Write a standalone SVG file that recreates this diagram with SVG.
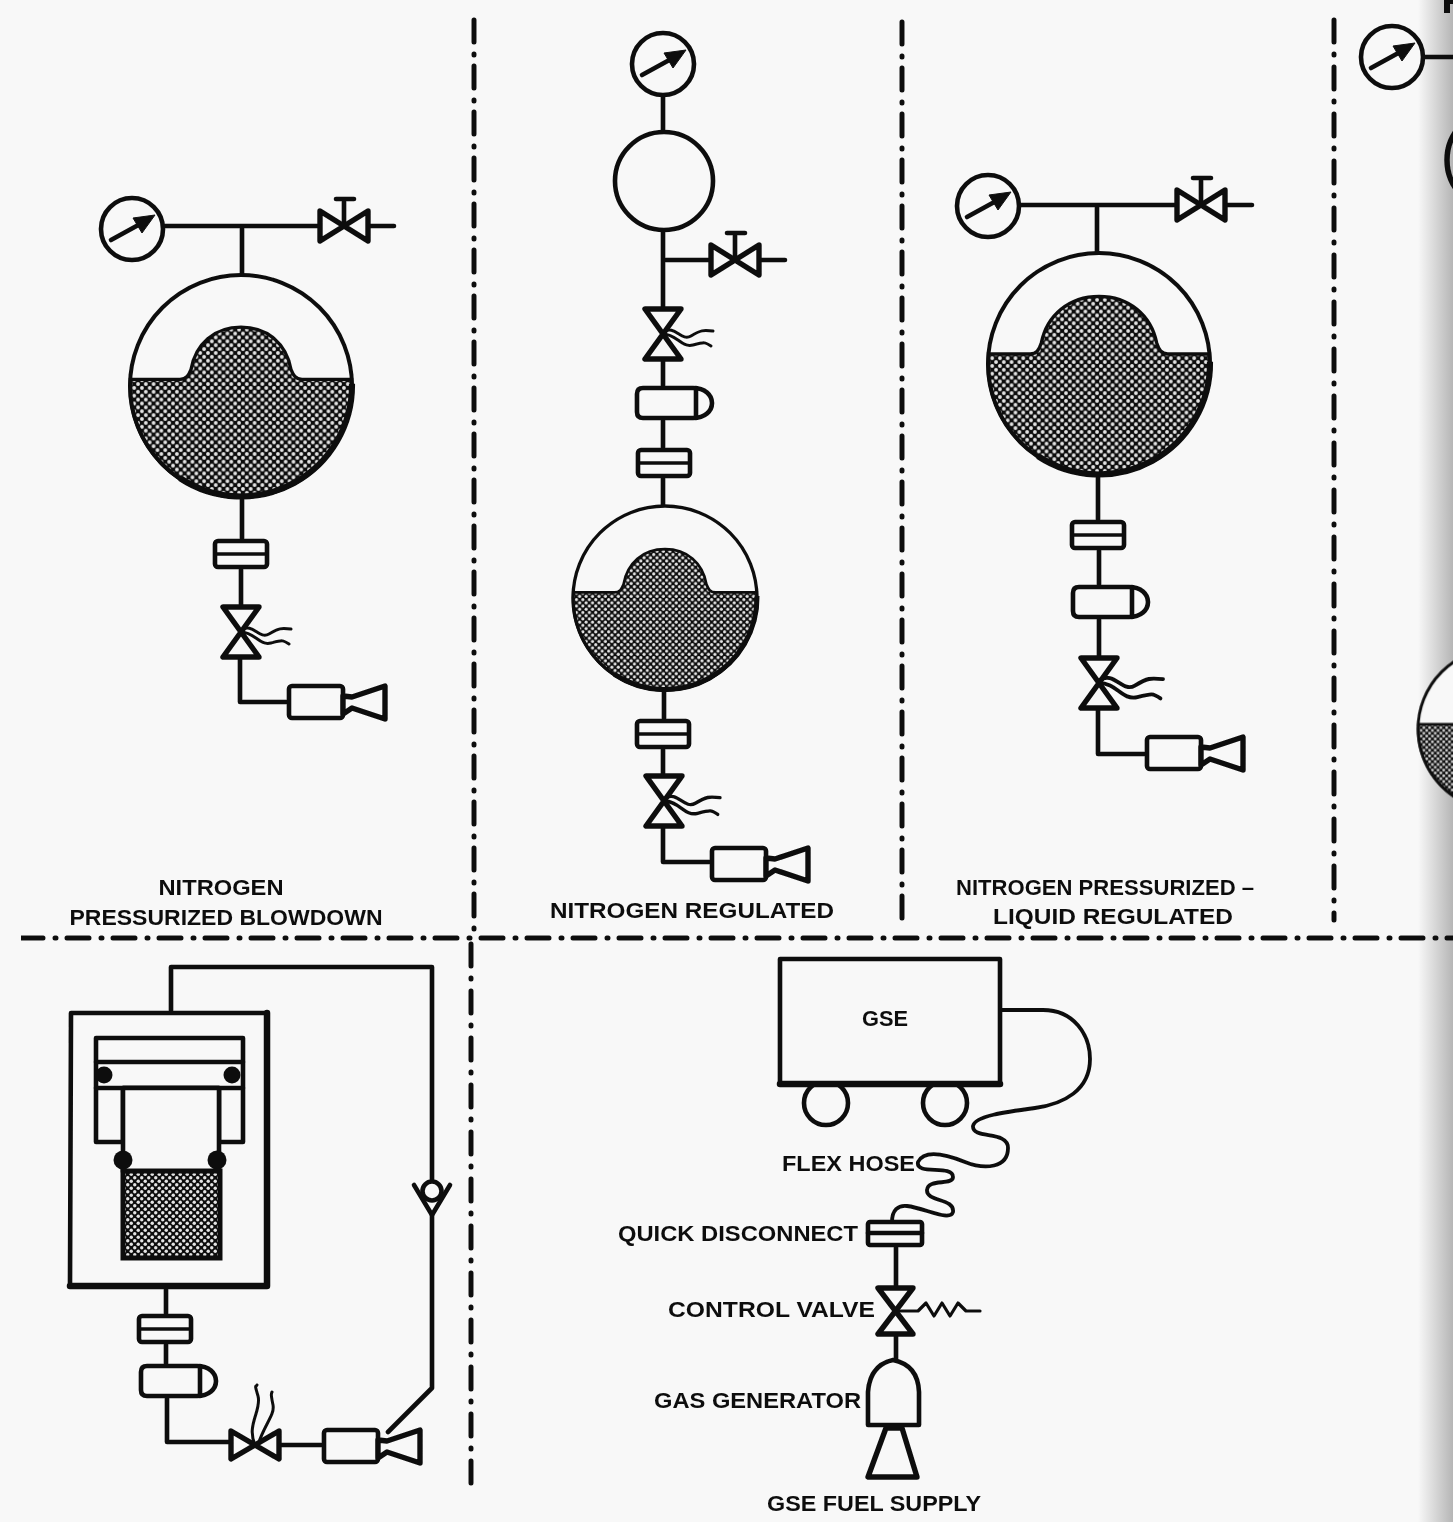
<svg xmlns="http://www.w3.org/2000/svg" width="1453" height="1522" viewBox="0 0 1453 1522">
<style>
.l{fill:none;stroke:#111;stroke-width:4.6;stroke-linejoin:round;stroke-linecap:round}
.s{fill:#f8f8f8;stroke:#111;stroke-width:4.6;stroke-linejoin:round;stroke-linecap:round}
.v{fill:#f8f8f8;stroke:#111;stroke-width:5.4;stroke-linejoin:round;stroke-linecap:round}
.w{fill:none;stroke:#111;stroke-width:3;stroke-linecap:round}
.d{fill:none;stroke:#111;stroke-width:5;stroke-linecap:round;stroke-dasharray:22 12 1 11}
.e{stroke-dasharray:22 12 1 12}
text{font-family:"Liberation Sans",Arial,sans-serif;font-size:22px;font-weight:700;fill:#111;stroke:none}
</style>
<defs>
<pattern id="dots" width="7" height="7" patternUnits="userSpaceOnUse">
<rect width="7" height="7" fill="#111"/>
<circle cx="1.75" cy="1.75" r="1.7" fill="#e4e4e4"/>
<circle cx="5.25" cy="5.25" r="1.7" fill="#e4e4e4"/>
</pattern>
<linearGradient id="edge" x1="0" x2="1" y1="0" y2="0">
<stop offset="0" stop-color="#999" stop-opacity="0"/>
<stop offset="1" stop-color="#999" stop-opacity=".7"/>
</linearGradient>
<filter id="soft" x="0" y="0" width="100%" height="100%"><feGaussianBlur stdDeviation=".6"/></filter>
<g id="gauge">
<circle r="31" class="s"/>
<path d="M-21 11L10 -6" class="l"/>
<path d="M23 -14L1 -11L10 4Z" fill="#111" stroke="#111" stroke-linejoin="round"/>
</g>
<g id="valveH">
<path d="M-24 -15L24 15V-15L-24 15Z" class="v"/>
<path d="M0 0V-26M-8 -27H10" class="l"/>
</g>
<g id="valveV">
<path d="M-18 -25H18L-18 25H18Z" class="v"/>
</g>
<path id="waves" d="M0 -2C12 -10 18 8 28 2S40 -4 50 -3M0 0C14 0 18 14 30 11S42 8 48 12" class="w"/>
<g id="coupling">
<rect x="-26" y="-13" width="52" height="26" rx="3" class="s"/>
<path d="M-24 0H24" class="l" style="stroke-width:3.4"/>
</g>
<g id="pill">
<path d="M-20 -15H30C42 -15 49 -8 49 0S42 15 30 15H-20Q-26 15 -26 9V-9Q-26 -15 -20 -15Z" class="s"/>
<path d="M33 -15V15" class="l"/>
</g>
<g id="thruster">
<rect x="0" y="-16" width="54" height="32" rx="3" class="s"/>
<path d="M54 -6L63 -5L96 -16V17L63 6L54 12Z" class="v"/>
</g>
<g id="shell">
<circle r="100" fill="none" stroke="#111" stroke-width="3.6"/>
<path d="M100 -2A100 100 0 0 1 -55 83" fill="none" stroke="#111" stroke-width="5.5"/>
</g>
<g id="tank">
<circle r="100" fill="#f8f8f8"/>
<path d="M-99.8 -6H-55C-49 -6 -47 -10 -45 -15C-41 -38 -24 -53 0 -53C24 -53 41 -38 45 -15C47 -10 49 -6 55 -6H99.8A100 100 0 1 1 -99.8 -6Z" fill="url(#dots)" stroke="#111" stroke-width="3"/>
<use href="#shell"/>
</g>
<g id="tankHigh">
<circle r="100" fill="#f8f8f8"/>
<path d="M-99.6 -9H-62C-56 -9 -54 -13 -52 -19C-47 -44 -27 -61 0 -61C27 -61 47 -44 52 -19C54 -13 56 -9 62 -9H99.6A100 100 0 1 1 -99.6 -9Z" fill="url(#dots)" stroke="#111" stroke-width="3"/>
<use href="#shell"/>
</g>
</defs>
<rect width="1453" height="1522" fill="#f8f8f8"/>
<rect x="1418" y="0" width="35" height="1522" fill="url(#edge)"/>
<g filter="url(#soft)">
<g id="connectors">
<path class="l" d="M162 226H320M368 226H394M242 226V275M242 497V541M241 567V607M240 656V702H289"/>
<path class="l" d="M663 95V132M663 230V308M663 260H710M759 260H785M663 358V388M663 418V451M663 476V507M664 689V721M663 747V777M663 826V862H712"/>
<path class="l" d="M1019 205H1177M1225 205H1252M1097 205V252M1098 476V522M1099 548V587M1099 617V658M1098 708V754H1147"/>
<path class="l" d="M1423 57H1453"/>
<path class="l" d="M171 1012V967H432V1180M432 1215V1388L388 1432M166 1286V1316M166 1342V1365M167 1397V1442H230M280 1445H324"/>
<path class="l" style="stroke-width:3.8" d="M1001 1010H1043C1074 1010 1090 1035 1090 1059C1090 1090 1064 1104 1035 1108C1005 1112 975 1116 973 1126C972 1140 1008 1130 1008 1148C1008 1168 985 1170 965 1162C950 1156 925 1148 918 1162C915 1176 953 1164 953 1177C953 1186 928 1178 927 1190C926 1202 955 1198 953 1212C950 1222 925 1208 907 1206C898 1205 892 1210 892 1222"/>
<path class="l" d="M896 1245V1287M896 1334V1360"/>
<path class="l" style="stroke-width:3.2" d="M896 1311H918L926 1303L934 1316L942 1303L950 1316L958 1303L966 1311H980"/>
</g>
<g id="dividers">
<path class="d" d="M474 20V930"/>
<path class="d" d="M902 22V922"/>
<path class="d e" d="M1334 20V920"/>
<path class="d e" d="M471 944V1484"/>
<path class="d" d="M21 938H1453"/>
</g>
<g id="blowdown">
<use href="#gauge" x="132" y="229"/>
<use href="#valveH" x="344" y="226"/>
<use href="#tank" transform="translate(241 386) scale(1.11)"/>
<use href="#coupling" x="241" y="554"/>
<use href="#valveV" x="241" y="632"/>
<use href="#waves" x="241" y="632"/>
<use href="#thruster" x="289" y="702"/>
<text x="221" y="895" text-anchor="middle" textLength="125" lengthAdjust="spacingAndGlyphs">NITROGEN</text>
<text x="226" y="925" text-anchor="middle" textLength="313" lengthAdjust="spacingAndGlyphs">PRESSURIZED BLOWDOWN</text>
</g>
<g id="regulated">
<use href="#gauge" x="663" y="64"/>
<circle cx="664" cy="181" r="49" class="s"/>
<use href="#valveH" x="735" y="260"/>
<use href="#valveV" x="663" y="334"/>
<use href="#waves" x="663" y="334"/>
<use href="#pill" x="663" y="403"/>
<use href="#coupling" x="664" y="463"/>
<use href="#tank" transform="translate(665 598) scale(.92)"/>
<use href="#coupling" x="663" y="734"/>
<use href="#valveV" x="664" y="801"/>
<use href="#waves" transform="translate(664 801) scale(1.12)"/>
<use href="#thruster" x="712" y="864"/>
<text x="692" y="918" text-anchor="middle" textLength="284" lengthAdjust="spacingAndGlyphs">NITROGEN REGULATED</text>
</g>
<g id="liquid-regulated">
<use href="#gauge" x="988" y="206"/>
<use href="#valveH" x="1201" y="205"/>
<use href="#tankHigh" transform="translate(1099 364) scale(1.11)"/>
<use href="#coupling" x="1098" y="535"/>
<use href="#pill" x="1099" y="602"/>
<use href="#valveV" x="1099" y="683"/>
<use href="#waves" transform="translate(1099 683) scale(1.28)"/>
<use href="#thruster" x="1147" y="753"/>
<text x="1105" y="895" text-anchor="middle" textLength="298" lengthAdjust="spacingAndGlyphs">NITROGEN PRESSURIZED –</text>
<text x="1113" y="924" text-anchor="middle" textLength="240" lengthAdjust="spacingAndGlyphs">LIQUID REGULATED</text>
</g>
<g id="cutoff-panel">
<use href="#gauge" x="1392" y="57"/>
<circle cx="1497" cy="160" r="50" class="l" style="stroke-width:5.5"/>
<use href="#tank" transform="translate(1499 729) scale(.81)"/>
<path d="M1444 0H1453V4H1450V13H1444Z" fill="#111"/>
</g>
<g id="piston-system">
<path d="M71 1013H267V1286H70Z" class="s"/>
<path d="M267 1013V1286H70" class="l" style="stroke-width:6.5"/>
<path d="M96 1038H243V1142H219V1088H123V1142H96Z" class="s"/>
<path d="M96 1062H243M96 1088H243" class="l"/>
<rect x="123" y="1088" width="96" height="84" class="s"/>
<circle cx="104" cy="1075" r="8.5" fill="#111"/>
<circle cx="232" cy="1075" r="8.5" fill="#111"/>
<circle cx="123" cy="1160" r="9.5" fill="#111"/>
<circle cx="217" cy="1160" r="9.5" fill="#111"/>
<rect x="123" y="1171" width="97" height="87" fill="url(#dots)" stroke="#111" stroke-width="5"/>
<path d="M414 1185L432 1215L450 1185" class="l"/>
<circle cx="432" cy="1191" r="9.5" class="s"/>
<use href="#coupling" x="165" y="1329"/>
<use href="#pill" x="167" y="1381"/>
<path d="M231 1431L279 1459V1431L231 1459Z" class="v"/>
<path class="w" d="M255 1445C246 1425 262 1410 258 1396S256 1388 257 1385M258 1445C264 1425 275 1415 273 1405S271 1394 272 1392"/>
<use href="#thruster" x="324" y="1446"/>
</g>
<g id="gse">
<circle cx="826" cy="1103" r="22" class="s"/>
<circle cx="945" cy="1103" r="22" class="s"/>
<rect x="780" y="959" width="220" height="125" class="s"/>
<path d="M780 1084H1000" class="l" style="stroke-width:6.5"/>
<text x="885" y="1026" text-anchor="middle" textLength="46" lengthAdjust="spacingAndGlyphs">GSE</text>
</g>
<g id="ground-supply">
<text x="782" y="1171" textLength="133" lengthAdjust="spacingAndGlyphs">FLEX HOSE</text>
<text x="618" y="1241" textLength="240" lengthAdjust="spacingAndGlyphs">QUICK DISCONNECT</text>
<rect x="868" y="1222" width="54" height="23" rx="2" class="s"/>
<path d="M868 1233H922" class="l"/>
<text x="668" y="1317" textLength="207" lengthAdjust="spacingAndGlyphs">CONTROL VALVE</text>
<path d="M878 1288H913L878 1334H913Z" class="v"/>
<text x="654" y="1408" textLength="207" lengthAdjust="spacingAndGlyphs">GAS GENERATOR</text>
<path d="M868 1425V1392Q870 1365 893 1360Q918 1365 919 1392V1425Z" class="s"/>
<path d="M886 1428L868 1477H917L902 1428Z" class="v"/>
<text x="767" y="1511" textLength="214" lengthAdjust="spacingAndGlyphs">GSE FUEL SUPPLY</text>
</g>
</g>
</svg>
